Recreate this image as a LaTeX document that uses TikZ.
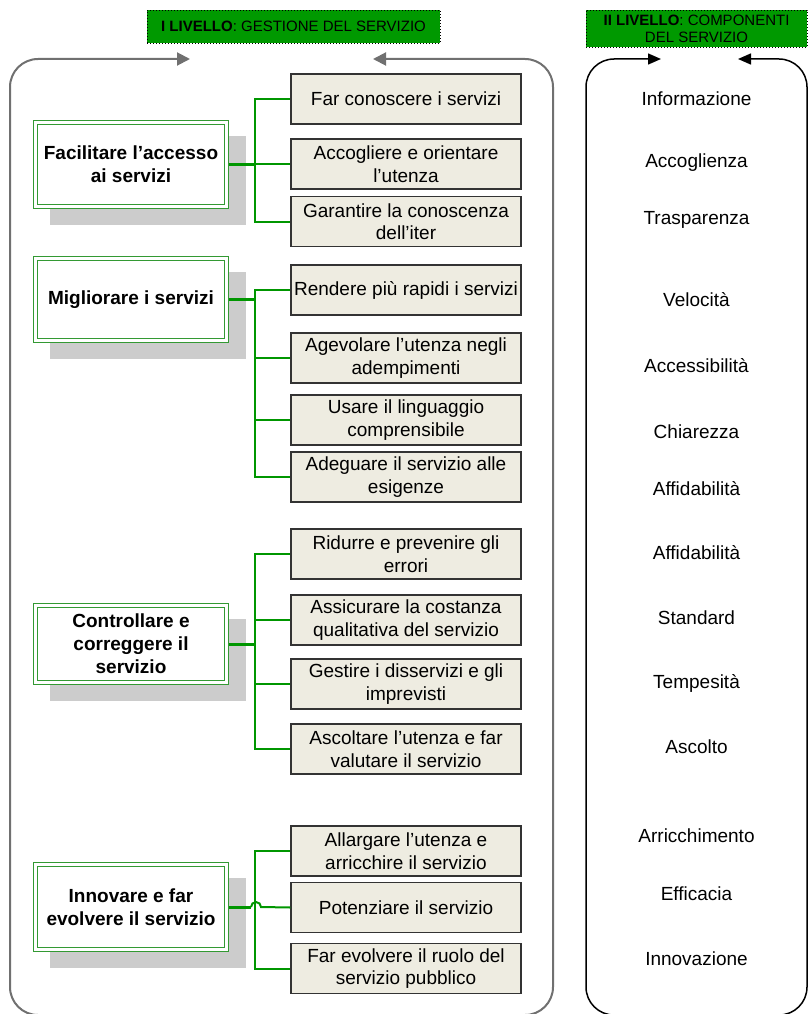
\documentclass[tikz,border=0pt]{standalone}
\usepackage{fontspec}
\setmainfont{Liberation Sans}
\usetikzlibrary{arrows.meta,backgrounds}
\definecolor{hdrgreen}{RGB}{0,153,0}
\definecolor{lngreen}{RGB}{0,150,0}
\definecolor{boxgreen}{RGB}{51,153,51}
\definecolor{shadegray}{RGB}{204,204,204}
\definecolor{subfill}{RGB}{238,236,225}
\definecolor{framegray}{RGB}{112,112,112}
\tikzset{x=1pt, y=-1pt,
  head/.style={draw=black, dash pattern=on 1pt off 2pt, fill=hdrgreen, align=center, inner sep=0pt, font=\fontsize{15}{17}\selectfont},
  main/.style={draw=boxgreen, double=white, double distance=2.4pt, line width=1.3pt, fill=white, minimum width=191pt, outer sep=2.5pt, align=center, font=\fontsize{19}{23}\selectfont\bfseries},
  sub/.style={draw=black!80, line width=1.2pt, fill=subfill, minimum width=230pt, minimum height=50pt, inner xsep=0pt, inner ysep=0pt, align=center, font=\fontsize{19}{22.5}\selectfont},
  comp/.style={inner sep=0pt, font=\fontsize{19}{23}\selectfont},
  trunk/.style={draw=lngreen, line width=3pt},
  branch/.style={draw=lngreen, line width=2pt},
  frame/.style={draw=framegray, line width=2pt, rounded corners=28pt, -{Triangle[length=13pt,width=13pt]}},
  frameblk/.style={draw=black, line width=1.5pt, rounded corners=28pt, -{Triangle[length=13pt,width=11pt]}}
}
\begin{document}
\begin{tikzpicture}
\useasboundingbox (0,0) rectangle (808,1014);
\clip (0,0) rectangle (808,1014);

% headers
\node[head, minimum width=293pt, minimum height=33pt] (h1) at (293.5,26.5) {{\bfseries I LIVELLO}: GESTIONE DEL SERVIZIO};
\node[head, minimum width=221pt, minimum height=37pt] (h2) at (696.5,28.5) {{\bfseries II LIVELLO}: COMPONENTI\\DEL SERVIZIO};

% frames
\coordinate (t1) at (190,59);
\coordinate (t2) at (373,59);
\coordinate (t3) at (661,59);
\coordinate (t4) at (738,59);
\draw[frame] (280,1015) -| (10,59) -- (t1);
\draw[frame] (280,1015) -| (553,59) -- (t2);
\draw[frameblk] (697,1015) -| (586,59) -- (t3);
\draw[frameblk] (697,1015) -| (807,59) -- (t4);

% first level
\node[main, minimum height=84pt] (acc) at (131,164.5) {Facilitare l'accesso\\ai servizi};
\node[main, minimum height=82pt] (mig) at (131,299.5) {Migliorare i servizi};
\node[main, minimum height=77pt] (con) at (131,644) {Controllare e\\correggere il\\servizio};
\node[main, minimum height=85pt] (inn) at (131,907) {Innovare e far\\evolvere il servizio};

\begin{scope}[on background layer]
  \foreach \m in {acc,mig,con,inn}
    \fill[shadegray] ([shift={(17,16)}]\m.south west) rectangle ([shift={(17,16)}]\m.north east);
\end{scope}

\node[sub] (acc1) at (406,99) {Far conoscere i servizi};
\node[sub] (acc2) at (406,164) {Accogliere e orientare\\l'utenza};
\node[sub] (acc3) at (406,221.5) {Garantire la conoscenza\\dell'iter};

\node[sub] (mig1) at (406,290) {Rendere più rapidi i servizi};
\node[sub] (mig2) at (406,358) {Agevolare l'utenza negli\\adempimenti};
\node[sub] (mig3) at (406,420) {Usare il linguaggio\\comprensibile};
\node[sub] (mig4) at (406,477) {Adeguare il servizio alle\\esigenze};

\node[sub] (con1) at (406,554) {Ridurre e prevenire gli\\errori};
\node[sub] (con2) at (406,620) {Assicurare la costanza\\qualitativa del servizio};
\node[sub] (con3) at (406,684) {Gestire i disservizi e gli\\imprevisti};
\node[sub] (con4) at (406,749) {Ascoltare l'utenza e far\\valutare il servizio};

\node[sub] (inn1) at (406,851) {Allargare l'utenza e\\arricchire il servizio};
\node[sub] (inn2) at (406,907.5) {Potenziare il servizio};
\node[sub] (inn3) at (406,968.5) {Far evolvere il ruolo del\\servizio pubblico};

% connectors
\draw[trunk] (acc.east) -- ++(27,0);
\draw[branch] (acc1.west) -- ++(-35,0) |- (acc3.west);
\draw[branch] (acc2.west) -- ++(-35,0);

\draw[trunk] (mig.east) -- ++(27,0);
\draw[branch] (mig1.west) -- ++(-35,0) |- (mig4.west);
\draw[branch] (mig2.west) -- ++(-35,0);
\draw[branch] (mig3.west) -- ++(-35,0);

\draw[trunk] (con.east) -- ++(27,0);
\draw[branch] (con1.west) -- ++(-35,0) |- (con4.west);
\draw[branch] (con2.west) -- ++(-35,0);
\draw[branch] (con3.west) -- ++(-35,0);

\draw[branch] (inn1.west) -- ++(-35,0) |- (inn3.west);
\draw[trunk] (inn.east) -- ++(22,0) coordinate (jump);
\draw[branch] (jump) arc[start angle=180, end angle=360, radius=5] -- (inn2.west);

% second level
\foreach \t/\y [count=\i] in {Informazione/99, Accoglienza/163, Trasparenza/220,
    Velocità/300, Accessibilità/366, Chiarezza/432, Affidabilità/489,
    Affidabilità/553, Standard/618, Tempesità/683, Ascolto/747,
    Arricchimento/836, Efficacia/894, Innovazione/959}
  \node[comp] (comp\i) at (696.5,\y) {\t};

\end{tikzpicture}
\end{document}
